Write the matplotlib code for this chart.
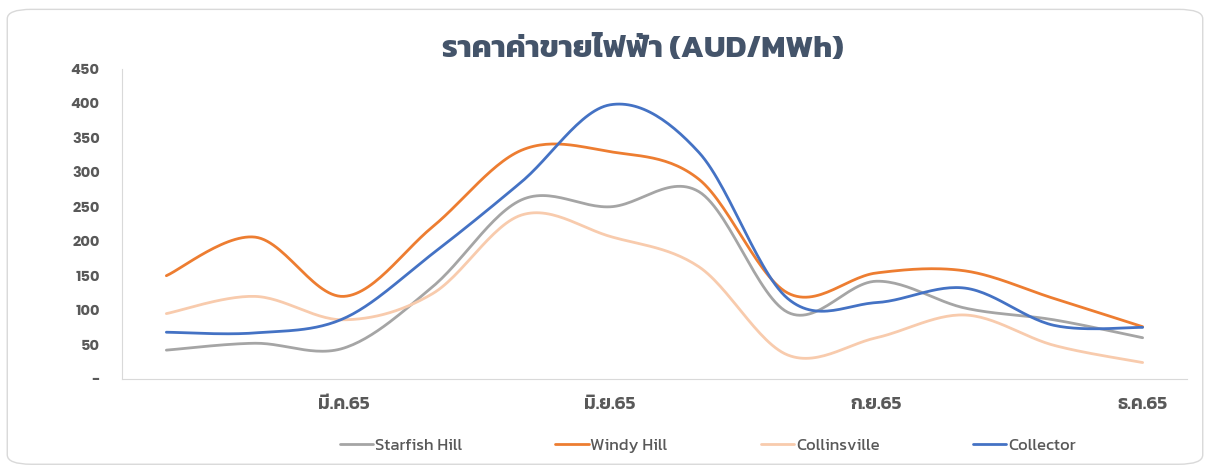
import matplotlib
matplotlib.use('Agg')
import matplotlib.pyplot as plt
from matplotlib.patches import FancyBboxPatch
import numpy as np

months = ['ม.ค.65', 'ก.พ.65', 'มี.ค.65', 'เม.ย.65', 'พ.ค.65', 'มิ.ย.65',
          'ก.ค.65', 'ส.ค.65', 'ก.ย.65', 'ต.ค.65', 'พ.ย.65', 'ธ.ค.65']
starfish_hill = [42, 52, 45, 134, 260, 250, 272, 97, 142, 103, 86, 60]
windy_hill = [150, 206, 120, 221, 332, 330, 290, 125, 154, 157, 117, 76]
collinsville = [95, 120, 86, 124, 238, 207, 163, 35, 60, 93, 49, 24]
collector = [68, 67, 88, 182, 286, 398, 329, 117, 111, 132, 78, 75]

series_names = ['Starfish Hill', 'Windy Hill', 'Collinsville', 'Collector']
colors = ['#A5A5A5', '#ED7D31', '#F8CBAD', '#4472C4']
yticks = [0, 50, 100, 150, 200, 250, 300, 350, 400, 450]


def smooth(x, y, n=30):
    # excel-like smoothed line: bezier segments with catmull-rom control points
    x = np.asarray(x, float)
    y = np.asarray(y, float)
    px = np.concatenate([[x[0]], x, [x[-1]]])
    py = np.concatenate([[y[0]], y, [y[-1]]])
    xs, ys = [], []
    t = np.linspace(0, 1, n)
    for i in range(len(x) - 1):
        p0 = np.array([px[i + 1], py[i + 1]])
        p3 = np.array([px[i + 2], py[i + 2]])
        c1 = p0 + (p3 - np.array([px[i], py[i]])) / 6
        c2 = p3 - (np.array([px[i + 3], py[i + 3]]) - p0) / 6
        b = ((1 - t) ** 3)[:, None] * p0 + (3 * (1 - t) ** 2 * t)[:, None] * c1 \
            + (3 * (1 - t) * t ** 2)[:, None] * c2 + (t ** 3)[:, None] * p3
        xs.extend(b[:, 0])
        ys.extend(b[:, 1])
    return xs, ys


fig = plt.figure(figsize=(12.1, 4.68), dpi=100)
fig.patches.append(FancyBboxPatch((0.006, 0.008), 0.988, 0.972,
                                  boxstyle='round,pad=0,rounding_size=0.02',
                                  transform=fig.transFigure, facecolor='white',
                                  edgecolor='#D9D9D9', linewidth=1, zorder=-10))

ax = fig.add_axes([0.1008, 0.19, 0.8802, 0.6626])
ax.patch.set_alpha(0)

x = np.arange(len(months))
for name, vals, c in zip(series_names, [starfish_hill, windy_hill, collinsville, collector], colors):
    sx, sy = smooth(x, vals)
    ax.plot(sx, sy, color=c, linewidth=2.0, label=name, solid_capstyle='round')

ax.set_xlim(-0.5, 11.5)
ax.set_ylim(0, 450)
ax.set_xticks(x[2::3])
ax.set_xticklabels(months[2::3], fontfamily='Kanit', fontweight='semibold',
                   fontsize=13.5, color='#595959')
ax.set_yticks(yticks)
ax.set_yticklabels(['-'] + [str(v) for v in yticks[1:]], fontfamily='Poppins',
                   fontweight='bold', fontsize=10.5, color='#595959')
ax.tick_params(length=0)
ax.tick_params(axis='x', pad=12)
ax.tick_params(axis='y', pad=16)
for s in ['top', 'right']:
    ax.spines[s].set_visible(False)
ax.spines['left'].set_color('#D9D9D9')
ax.spines['bottom'].set_color('#D9D9D9')

fig.text(0.531, 0.895, 'ราคาค่าขายไฟฟ้า (AUD/MWh)', ha='center', va='center',
         fontfamily='Kanit', fontweight='bold', fontsize=22.5, color='#44546A')

leg = ax.legend(loc='center', bbox_to_anchor=(0.55, -0.215), ncol=4, frameon=False,
                prop={'family': 'Kanit', 'size': 12}, handlelength=2.0,
                handletextpad=0.1, columnspacing=5.6)
for t in leg.get_texts():
    t.set_color('#595959')

fig.savefig('out.png')
